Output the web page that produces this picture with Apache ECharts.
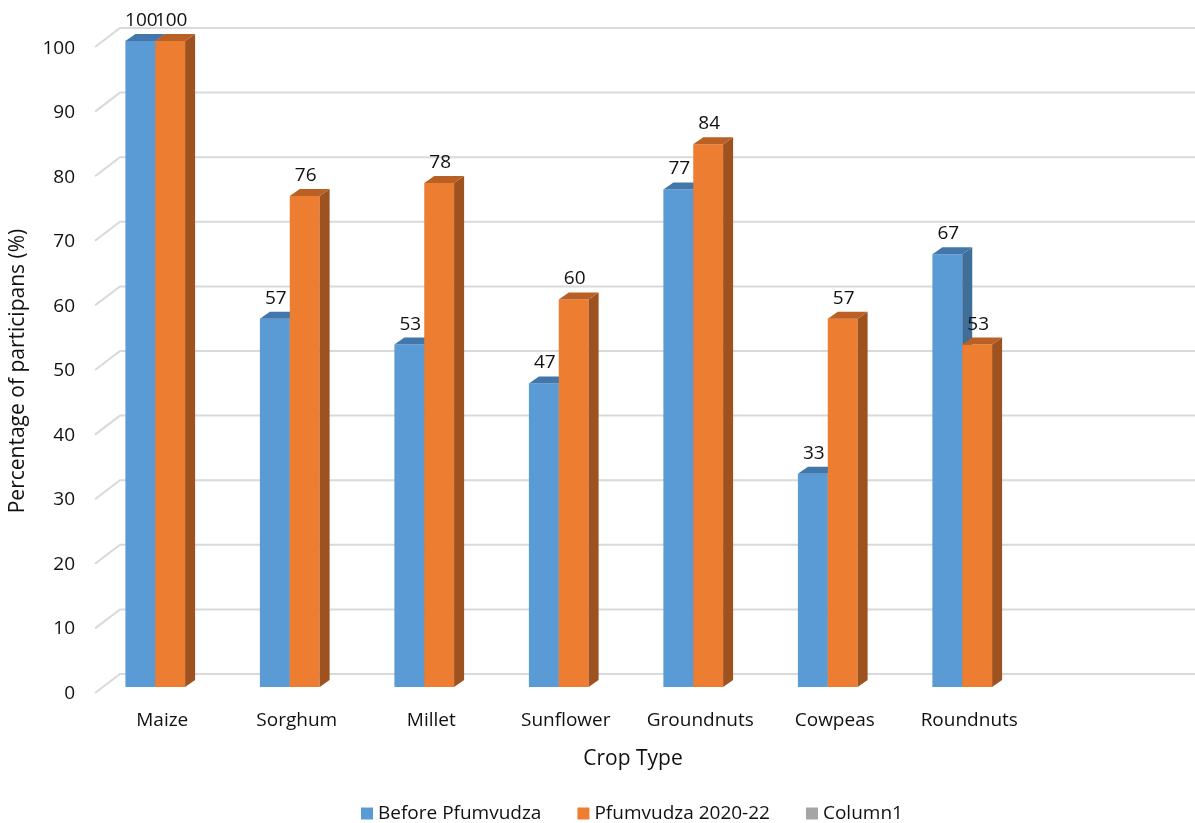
<!DOCTYPE html>
<html>
<head>
<meta charset="utf-8">
<script src="https://cdn.jsdelivr.net/npm/echarts@6/dist/echarts.min.js"></script>
<style>
  html, body { margin: 0; padding: 0; background: #fff; }
  #chart { width: 1195px; height: 823px; }
</style>
</head>
<body>
<div id="chart"></div>
<script>
// Crop categories (last slot is an empty placeholder column)
const categories = ['Maize', 'Sorghum', 'Millet', 'Sunflower', 'Groundnuts', 'Cowpeas', 'Roundnuts', ''];
const beforeValues = [100, 57, 53, 47, 77, 33, 67];
const afterValues = [100, 76, 78, 60, 84, 57, 53];
const column1Values = [];
const yTicks = [0, 10, 20, 30, 40, 50, 60, 70, 80, 90, 100];

const FONT = '"Open Sans", "Noto Sans", sans-serif';
const DEPTH_X = 10, DEPTH_Y = 7;

// 3D-style column: front face, top face and right side face
function columnRenderer(side, front, topColor, sideColor) {
  return function (params, api) {
    const cat = api.value(0), v = api.value(1);
    const base = api.coord([cat, 0]);
    const top = api.coord([cat, v]);
    const band = api.size([1, 0])[0];
    const w = band * 0.222;
    const x0 = side === 0 ? base[0] - w : base[0];
    const x1 = x0 + w;
    const yt = top[1], yb = base[1];
    return {
      type: 'group',
      children: [
        { type: 'rect', shape: { x: x0, y: yt, width: w, height: yb - yt }, style: { fill: front } },
        { type: 'polygon', shape: { points: [[x1, yt], [x1 + DEPTH_X, yt - DEPTH_Y], [x1 + DEPTH_X, yb - DEPTH_Y], [x1, yb]] }, style: { fill: sideColor } },
        { type: 'polygon', shape: { points: [[x0, yt], [x1, yt], [x1 + DEPTH_X, yt - DEPTH_Y], [x0 + DEPTH_X, yt - DEPTH_Y]] }, style: { fill: topColor } },
        { type: 'text', x: x0 + w / 2 + 1, y: yt - DEPTH_Y - 4,
          style: { text: String(v), align: 'center', verticalAlign: 'bottom', fill: '#111', font: '19px ' + FONT } }
      ]
    };
  };
}

// Back-wall gridlines with the slanted depth segment on the left
function gridRenderer(params, api) {
  const v = api.value(1);
  const p = api.coord([0, v]);
  const cs = params.coordSys;
  const y = p[1];
  return {
    type: 'polyline',
    shape: { points: [[cs.x + 7, y + 6], [cs.x + 32, y - 13], [cs.x + cs.width + 31, y - 13]] },
    style: { stroke: '#d9d9d9', lineWidth: 2, fill: null }
  };
}

const chart = echarts.init(document.getElementById('chart'), null, { renderer: 'canvas' });
chart.setOption({
  backgroundColor: '#fff',
  animation: false,
  textStyle: { fontFamily: FONT },
  grid: [
    { left: 88, width: 1076, top: 41, bottom: 136 },
    { left: 95, width: 1076, top: 48.5, bottom: 129.5 }
  ],
  xAxis: [
    { type: 'category', gridIndex: 0, data: categories, show: false },
    { type: 'category', gridIndex: 1, data: categories,
      axisLine: { show: false }, axisTick: { show: false },
      axisLabel: { color: '#111', fontSize: 19, margin: 18, interval: 0, fontFamily: FONT },
      name: 'Crop Type', nameLocation: 'middle', nameGap: 55,
      nameTextStyle: { color: '#111', fontSize: 21, fontFamily: FONT } }
  ],
  yAxis: [
    { type: 'value', gridIndex: 0, min: 0, max: 100, interval: 10, show: false },
    { type: 'value', gridIndex: 1, min: 0, max: 100, interval: 10,
      axisLine: { show: false }, axisTick: { show: false }, splitLine: { show: false },
      axisLabel: { color: '#111', fontSize: 19, margin: 20, fontFamily: FONT },
      name: 'Percentage of participans (%)', nameLocation: 'middle', nameGap: 66,
      nameTextStyle: { color: '#111', fontSize: 21, fontFamily: FONT } }
  ],
  legend: {
    top: 799, left: 356, itemWidth: 12, itemHeight: 12, itemGap: 36,
    icon: 'rect',
    textStyle: { color: '#111', fontSize: 19, fontFamily: FONT },
    data: ['Before Pfumvudza', 'Pfumvudza 2020-22', 'Column1']
  },
  series: [
    { type: 'custom', name: 'gridlines', xAxisIndex: 0, yAxisIndex: 0, z: 1, silent: true,
      renderItem: gridRenderer, data: yTicks.map(t => [0, t]), encode: { x: 0, y: 1 } },
    { type: 'custom', name: 'Before Pfumvudza', xAxisIndex: 0, yAxisIndex: 0, z: 2,
      itemStyle: { color: '#5B9BD5' },
      renderItem: columnRenderer(0, '#5B9BD5', '#4177AA', '#3F6E98'),
      data: beforeValues.map((v, i) => [i, v]), encode: { x: 0, y: 1 } },
    { type: 'custom', name: 'Pfumvudza 2020-22', xAxisIndex: 0, yAxisIndex: 0, z: 3,
      itemStyle: { color: '#ED7D31' },
      renderItem: columnRenderer(1, '#ED7D31', '#BA6024', '#9E5220'),
      data: afterValues.map((v, i) => [i, v]), encode: { x: 0, y: 1 } },
    { type: 'bar', name: 'Column1', xAxisIndex: 0, yAxisIndex: 0,
      itemStyle: { color: '#A5A5A5' }, data: column1Values }
  ]
});
</script>
</body>
</html>
